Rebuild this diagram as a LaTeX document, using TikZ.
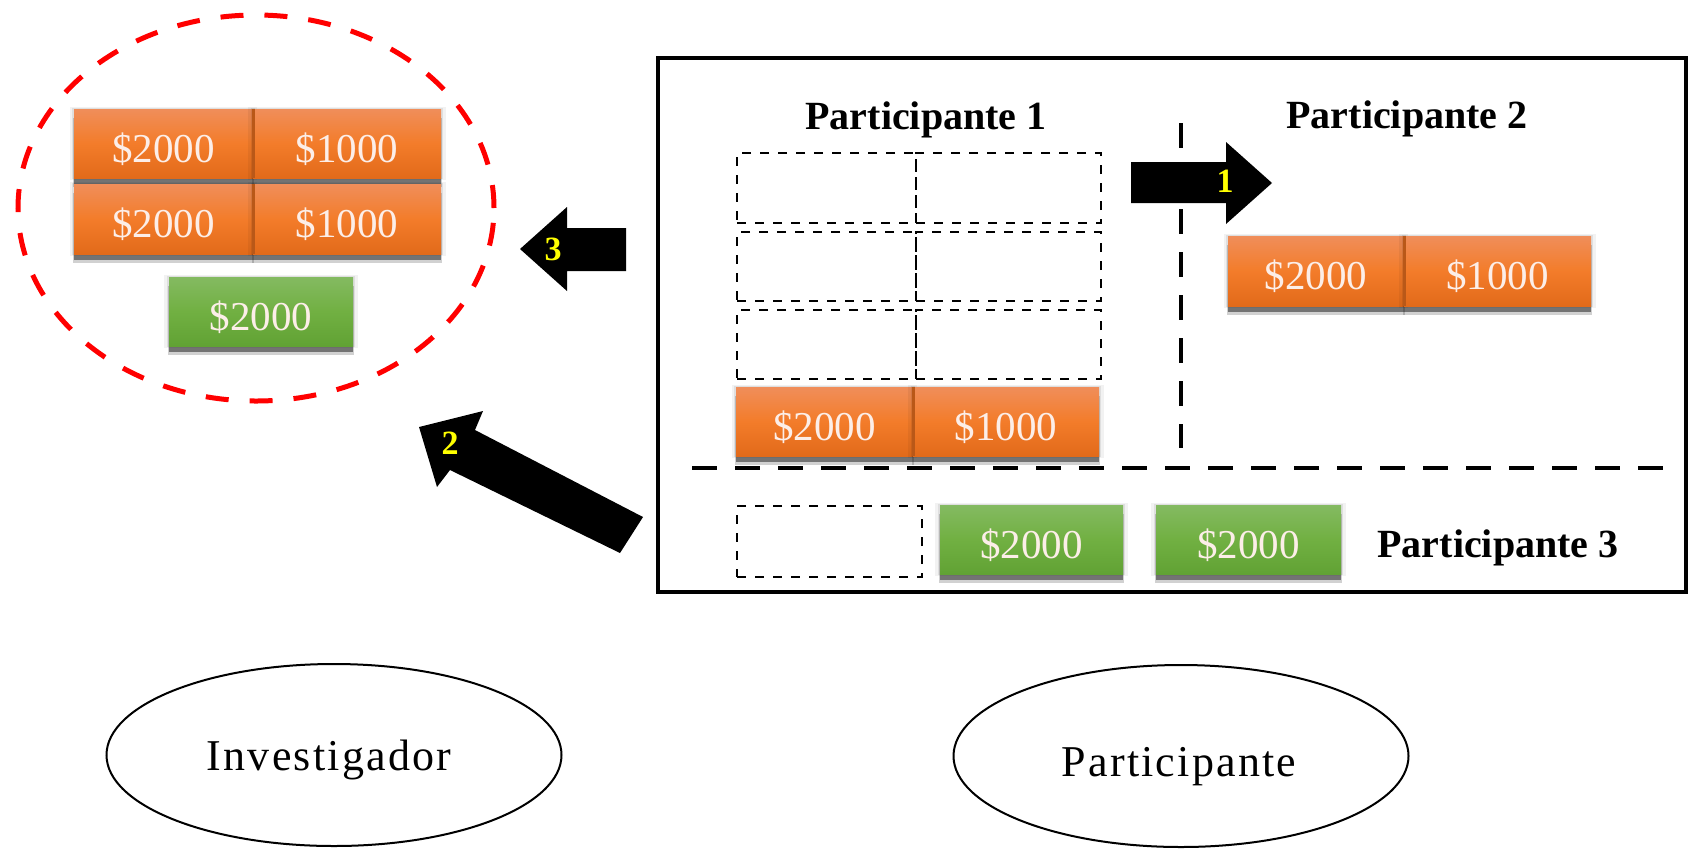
\documentclass[tikz,border=0pt]{standalone}
\usepackage{fontspec}
\setmainfont{Liberation Serif}
\newfontfamily\ovalfont[LetterSpace=5]{Liberation Serif}
\usetikzlibrary{shadows,shapes.geometric}
\definecolor{orTop}{RGB}{240,142,90}
\definecolor{orMid}{RGB}{243,124,42}
\definecolor{orBot}{RGB}{226,106,26}
\definecolor{grTop}{RGB}{132,186,97}
\definecolor{grMid}{RGB}{113,176,66}
\definecolor{grBot}{RGB}{97,162,52}
\definecolor{moneytext}{RGB}{252,238,232}
\definecolor{divcol}{RGB}{185,88,24}
\definecolor{numcol}{RGB}{255,255,0}
\begin{document}
\begin{tikzpicture}[x=1pt,y=-1pt,
  cellbase/.style={rectangle, inner sep=0pt, outer sep=0pt, text=moneytext,
    font=\fontsize{41}{49}\selectfont, text height=37pt, text depth=0pt,
    general shadow={shadow scale=1.05, opacity=0.05, fill=black},
    general shadow={shadow scale=1.025, opacity=0.08, fill=black},
    drop shadow={shadow xshift=0pt, shadow yshift=-9pt, shadow scale=1.01, opacity=0.18, fill=black},
    drop shadow={shadow xshift=0pt, shadow yshift=-6pt, opacity=0.45, fill=black}},
  orangecell/.style={cellbase, top color=orTop, bottom color=orBot, middle color=orMid},
  greencell/.style={cellbase, top color=grTop, bottom color=grBot, middle color=grMid},
  gridcell/.style={rectangle, draw, inner sep=0pt, line width=2.8pt, dash pattern=on 9pt off 9pt},
  divline/.style={draw=divcol, line width=3pt},
  longdash/.style={line width=4.5pt, dash pattern=on 25pt off 18pt},
  title/.style={font=\bfseries\fontsize{40}{48}\selectfont, anchor=base, inner sep=0pt},
  arrnum/.style={font=\bfseries\fontsize{34}{40}\selectfont, text=numcol, inner sep=0pt},
  oval/.style={ellipse, draw, line width=2pt, minimum width=455pt, minimum height=182pt, inner sep=0pt},
  ovaltext/.style={font=\ovalfont\fontsize{44}{52}\selectfont, anchor=base, inner sep=0pt}
]
\useasboundingbox (0,0) rectangle (1688,852);

% ---------- left pool ----------
\node[draw=red, ellipse, line width=5pt, dash pattern=on 23pt off 21pt,
      minimum width=476pt, minimum height=386pt, inner sep=0pt] (pool) at (256,208) {};
\node[orangecell, minimum width=179pt, minimum height=69pt] (L1a) at (163.5,143.5) {\$2000};
\node[orangecell, minimum width=188pt, minimum height=69pt] (L1b) at (347,143.5) {\$1000};
\draw[divline] (L1a.north east) -- (L1a.south east);
\node[orangecell, minimum width=179pt, minimum height=70pt] (L2a) at (163.5,219) {\$2000};
\node[orangecell, minimum width=188pt, minimum height=70pt] (L2b) at (347,219) {\$1000};
\draw[divline] (L2a.north east) -- (L2a.south east);
\node[greencell, minimum width=184pt, minimum height=69pt] (LG) at (261,311.5) {\$2000};

% ---------- arrow 3 ----------
\fill (626,228) -- (567,228) -- (567,207) -- (520,249) -- (567,291) -- (567,271) -- (626,271) -- cycle;
\node[arrnum] (n3) at (553,249) {3};

% ---------- arrow 2 ----------
\fill (419,427) -- (483,411) -- (475,430) -- (643,517) -- (620,553) -- (450,470) -- (437,487) -- cycle;
\node[arrnum] (n2) at (450,443) {2};

% ---------- main frame ----------
\node[draw, line width=4pt, rectangle, inner sep=0pt, minimum width=1028pt, minimum height=534pt] (frame) at (1172,325) {};

\node[title] (t1) at (926,129) {Participante 1};
\node[title] (t2) at (1407,128) {Participante 2};
\node[title] (t3) at (1498,557) {Participante 3};

% grid of empty slots
\node[gridcell, minimum width=179pt, minimum height=70pt] (g11) at (826.5,188) {};
\node[gridcell, minimum width=185pt, minimum height=70pt] (g12) at (1008.5,188) {};
\node[gridcell, minimum width=179pt, minimum height=69pt] (g21) at (826.5,266.5) {};
\node[gridcell, minimum width=185pt, minimum height=69pt] (g22) at (1008.5,266.5) {};
\node[gridcell, minimum width=179pt, minimum height=69pt] (g31) at (826.5,344.5) {};
\node[gridcell, minimum width=185pt, minimum height=69pt] (g32) at (1008.5,344.5) {};

\node[orangecell, minimum width=177pt, minimum height=69pt] (P1a) at (824.5,421.5) {\$2000};
\node[orangecell, minimum width=186pt, minimum height=69pt] (P1b) at (1006,421.5) {\$1000};
\draw[divline] (P1a.north east) -- (P1a.south east);

\node[orangecell, minimum width=176pt, minimum height=70pt] (P2a) at (1316,271) {\$2000};
\node[orangecell, minimum width=187pt, minimum height=70pt] (P2b) at (1497.5,271) {\$1000};
\draw[divline] (P2a.north east) -- (P2a.south east);

% dashed separators
\coordinate (vd1) at (1181,123);
\coordinate (vd2) at (1181,448);
\draw[longdash] (vd1) -- (vd2);
\coordinate (hd1) at (692,468);
\coordinate (hd2) at (1666,468);
\draw[longdash] (hd1) -- (hd2);

% arrow 1
\fill (1131,162) -- (1226,162) -- (1226,142) -- (1272,183) -- (1226,224) -- (1226,203) -- (1131,203) -- cycle;
\node[arrnum] (n1) at (1225,181) {1};

% participant 3 row
\node[gridcell, minimum width=185pt, minimum height=71pt] (g41) at (829.5,541.5) {};
\node[greencell, minimum width=183pt, minimum height=69pt] (B1) at (1031.5,539.5) {\$2000};
\node[greencell, minimum width=185pt, minimum height=69pt] (B2) at (1248.5,539.5) {\$2000};

% ---------- bottom ovals ----------
\node[oval] (inv) at (334,755) {};
\node[ovaltext] (invt) at ([xshift=-5pt,yshift=-15pt]inv.center) {Investigador};
\node[oval] (par) at (1181,756) {};
\node[ovaltext] (part) at ([xshift=-2pt,yshift=-20pt]par.center) {Participante};
\end{tikzpicture}
\end{document}
